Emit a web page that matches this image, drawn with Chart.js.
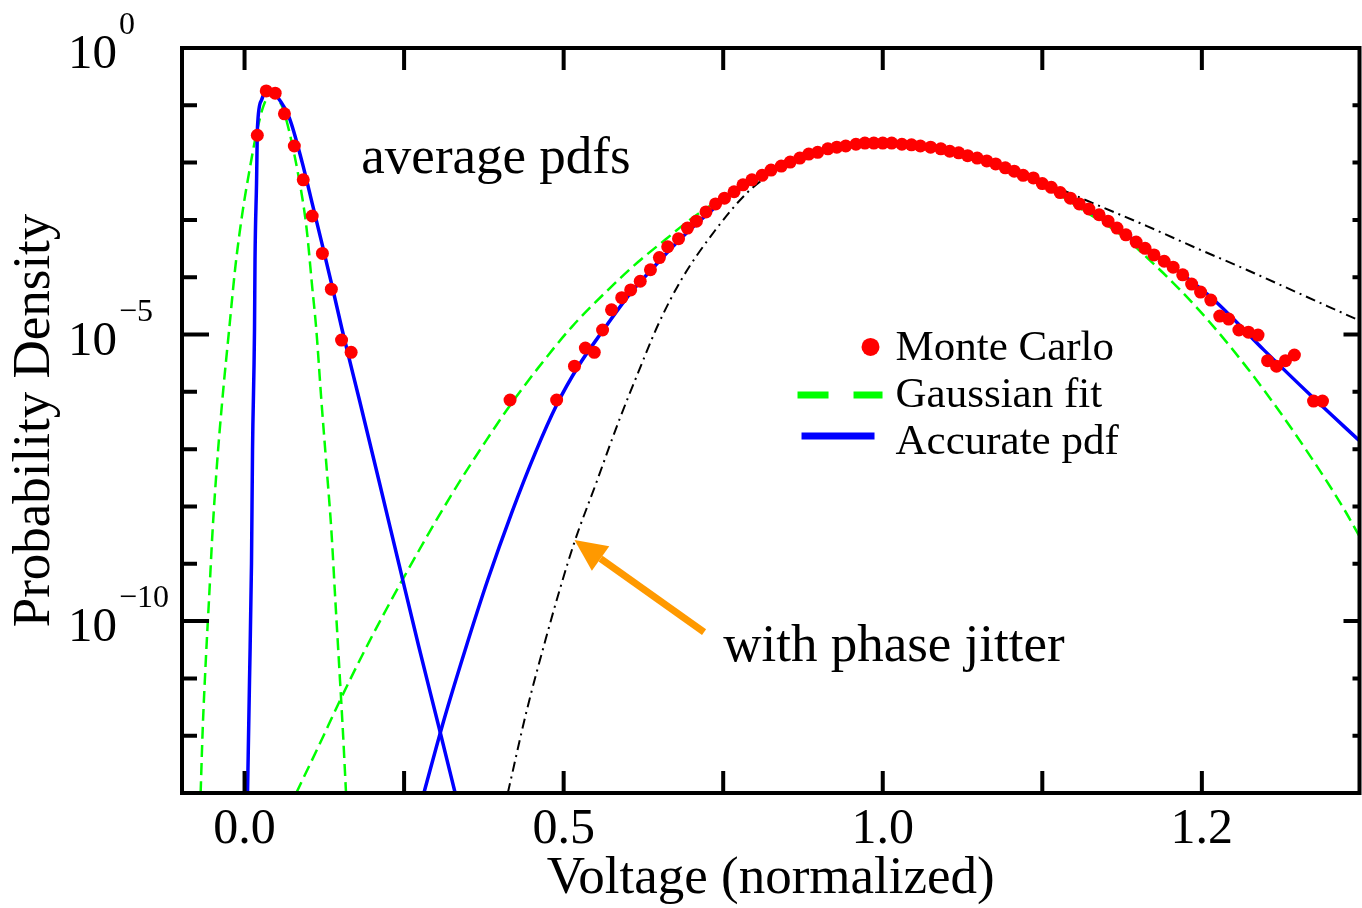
<!DOCTYPE html>
<html>
<head>
<meta charset="utf-8">
<script src="https://cdn.jsdelivr.net/npm/chart.js@4.4.1/dist/chart.umd.min.js"></script>
<style>
  html, body { margin: 0; padding: 0; background: #fff; overflow: hidden; }
  #wrap { width: 1362px; height: 908px; overflow: hidden; }
</style>
</head>
<body>
<div id="wrap"><canvas id="pdfChart" width="1366" height="908"></canvas></div>
<script>
// ========================
// DATA
// ========================
const xTickValues = [0, 0.25, 0.5, 0.75, 1.0, 1.25, 1.5];
const xLabelValues = [0, 0.5, 1.0, 1.5];
const xTickLabels = ['0.0', '0.5', '1.0', '1.2'];

const yTickValues = [1, 1e-1, 1e-2, 1e-3, 1e-4, 1e-5, 1e-6, 1e-7, 1e-8, 1e-9, 1e-10, 1e-11, 1e-12, 1e-13];
const yLabelValues = [1, 1e-5, 1e-10];
const yLabelExponents = ['0', '\u22125', '\u221210'];

// Monte Carlo samples
const mcX = [0.020, 0.034, 0.048, 0.0625, 0.078, 0.092, 0.106, 0.122, 0.136, 0.152, 0.167,
  0.416, 0.489, 0.517, 0.534, 0.548, 0.561, 0.575, 0.591, 0.605, 0.620,
  0.636, 0.650, 0.663, 0.680, 0.694, 0.708, 0.723, 0.738, 0.752, 0.767,
  0.781, 0.795, 0.811, 0.825, 0.841, 0.855, 0.870, 0.884, 0.898, 0.914,
  0.928, 0.942, 0.958, 0.972, 0.986, 1.000, 1.014, 1.030, 1.045, 1.059,
  1.075, 1.091, 1.105, 1.119, 1.133, 1.148, 1.163, 1.177, 1.192, 1.206,
  1.220, 1.236, 1.250, 1.264, 1.278, 1.294, 1.308, 1.323, 1.339, 1.353,
  1.367, 1.381, 1.397, 1.411, 1.425, 1.441, 1.455, 1.470, 1.484, 1.498,
  1.514, 1.528, 1.542, 1.558, 1.573, 1.588, 1.603, 1.617, 1.631, 1.645,
  1.675, 1.689];
const mcY = [3.0e-2, 1.78e-1, 1.63e-1, 7.1e-2, 1.95e-2, 5.0e-3, 1.17e-3, 2.6e-4, 6.2e-5, 8.0e-6, 4.9e-6,
  7.2e-7, 7.2e-7, 2.8e-6, 5.8e-6, 4.9e-6, 1.2e-5, 2.7e-5, 4.4e-5, 6.0e-5, 8.5e-5,
  1.35e-4, 2.2e-4, 3.4e-4, 4.7e-4, 7.2e-4, 9.5e-4, 1.38e-3, 1.9e-3, 2.4e-3, 3.1e-3,
  4.1e-3, 5.0e-3, 6.0e-3, 7.4e-3, 8.7e-3, 1.02e-2, 1.20e-2, 1.41e-2, 1.51e-2, 1.74e-2,
  1.86e-2, 1.95e-2, 2.09e-2, 2.19e-2, 2.19e-2, 2.19e-2, 2.19e-2, 2.09e-2, 2.04e-2, 1.95e-2,
  1.86e-2, 1.74e-2, 1.58e-2, 1.48e-2, 1.32e-2, 1.20e-2, 1.07e-2, 9.5e-3, 8.1e-3, 7.1e-3,
  6.0e-3, 5.4e-3, 4.3e-3, 3.7e-3, 3.0e-3, 2.4e-3, 1.9e-3, 1.55e-3, 1.23e-3, 9.5e-4,
  7.2e-4, 5.5e-4, 4.1e-4, 3.2e-4, 2.45e-4, 1.9e-4, 1.5e-4, 1.1e-4, 7.6e-5, 5.5e-5,
  4.0e-5, 2.1e-5, 1.86e-5, 1.2e-5, 1.1e-5, 9.8e-6, 3.5e-6, 2.8e-6, 3.5e-6, 4.4e-6,
  6.9e-7, 6.9e-7];

// Gaussian fit, peak near 0
const gaussLeftX = [-0.0688, -0.0656, -0.0609, -0.0555, -0.050, -0.043, -0.0344, -0.0242, -0.0141, -0.0031,
  0.0078, 0.0188, 0.0297, 0.0422, 0.0578, 0.0656, 0.0828, 0.0969, 0.106, 0.1125,
  0.120, 0.128, 0.136, 0.142, 0.148, 0.154, 0.159];
const gaussLeftY = [1.0e-13, 1.26e-12, 1.86e-11, 2.6e-10, 3.9e-9, 5.75e-8, 8.1e-7, 1.2e-5, 1.62e-4, 1.38e-3,
  7.4e-3, 3.3e-2, 9.8e-2, 1.64e-1, 1.02e-1, 5.5e-2, 7.4e-3, 7.6e-4, 6.8e-5, 1.2e-5,
  8.1e-7, 5.75e-8, 3.9e-9, 2.6e-10, 1.86e-11, 1.26e-12, 1.0e-13];

// Gaussian fit, peak near 1
const gaussRightX = [0.081, 0.117, 0.152, 0.195, 0.250, 0.325, 0.378, 0.414, 0.461, 0.5125,
  0.566, 0.617, 0.659, 0.700, 0.7375, 0.805, 0.867, 0.930, 1.000, 1.070,
  1.148, 1.227, 1.309, 1.378, 1.414, 1.466, 1.519, 1.570, 1.622, 1.680,
  1.722, 1.747];
const gaussRightY = [1.0e-13, 6.9e-13, 4.7e-12, 4.3e-11, 5.9e-10, 1.65e-8, 1.38e-7, 5.4e-7, 2.7e-6, 1.35e-5,
  5.5e-5, 1.86e-4, 4.5e-4, 1.05e-3, 2.0e-3, 5.6e-3, 1.12e-2, 1.78e-2, 2.19e-2, 1.86e-2,
  1.2e-2, 5.9e-3, 1.6e-3, 5.0e-4, 2.2e-4, 6.0e-5, 1.35e-5, 2.7e-6, 4.5e-7, 5.1e-8,
  9.3e-9, 3.0e-9];

// Accurate pdf, peak near 0
const accLeftX = [0.0047, 0.0078, 0.0109, 0.0125, 0.0156, 0.0164, 0.0188, 0.0203, 0.0266, 0.0359,
  0.0516, 0.0703, 0.0906, 0.106, 0.122, 0.1375, 0.153, 0.180, 0.211, 0.242,
  0.273, 0.305, 0.330];
const accLeftY = [1.0e-13, 9.3e-12, 1.02e-9, 9.6e-8, 1.2e-5, 2.0e-4, 4.4e-3, 4.2e-2, 1.23e-1, 2.0e-1,
  1.4e-1, 6.0e-2, 9.8e-3, 1.95e-3, 3.6e-4, 6.8e-5, 1.2e-5, 7.2e-7, 2.7e-8, 9.8e-10,
  3.6e-11, 1.35e-12, 1.0e-13];

// Accurate pdf, peak near 1
const accRightX = [0.281, 0.3125, 0.347, 0.381, 0.419, 0.456, 0.489, 0.523, 0.559, 0.606,
  0.6375, 0.675, 0.711, 0.7625, 0.816, 0.867, 0.919, 0.958, 1.000, 1.075,
  1.153, 1.231, 1.309, 1.3875, 1.466, 1.519, 1.597, 1.675, 1.747];
const accRightY = [1.0e-13, 1.9e-12, 3.5e-11, 5.2e-10, 8.0e-9, 8.9e-8, 5.9e-7, 2.8e-6, 1.07e-5, 5.5e-5,
  1.35e-4, 3.8e-4, 9.1e-4, 2.8e-3, 6.3e-3, 1.15e-2, 1.78e-2, 2.09e-2, 2.19e-2, 1.86e-2,
  1.2e-2, 5.4e-3, 1.8e-3, 5.0e-4, 1.2e-4, 4.0e-5, 5.4e-6, 7.8e-7, 1.4e-7];

// with phase jitter
const jitterX = [0.4125, 0.442, 0.472, 0.495, 0.517, 0.552, 0.586, 0.617, 0.648, 0.684,
  0.7375, 0.789, 0.831, 0.867, 0.914, 0.961, 1.000, 1.102, 1.180, 1.258,
  1.336, 1.414, 1.492, 1.570, 1.648, 1.747];
const jitterY = [1.0e-13, 2.7e-12, 4.9e-11, 3.9e-10, 2.4e-9, 2.75e-8, 3.0e-7, 2.2e-6, 1.48e-5, 8.9e-5,
  6.6e-4, 3.1e-3, 7.1e-3, 1.2e-2, 1.74e-2, 2.04e-2, 2.19e-2, 1.66e-2, 9.8e-3, 4.3e-3,
  1.82e-3, 7.8e-4, 3.2e-4, 1.35e-4, 5.5e-5, 1.75e-5];

const legendLabels = ['Monte Carlo', 'Gaussian fit', 'Accurate pdf'];

// ========================
// LAYOUT / STYLE
// ========================
const FONT = '"Liberation Serif", "Times New Roman", Times, serif';
const RED = '#ff0000';
const GREEN = '#00ff00';
const BLUE = '#0000ff';
const ORANGE = '#ff9900';

const X_MIN = -0.098, X_MAX = 1.747;
const Y_MIN = 1e-13, Y_MAX = 1;

// annotation anchors in data units
const notes = [
  { text: 'average pdfs', x: 0.183, y: 6.6e-3 },
  { text: 'with phase jitter', x: 0.75, y: 2.0e-11 }
];
const arrowTail = { x: 0.720, y: 6.4e-11 };
const arrowTip = { x: 0.517, y: 2.6e-9 };
const legendAnchor = { x: 1.020, y: 3.6e-6 };

function pairs(xs, ys) {
  return xs.map((x, i) => ({ x: x, y: ys[i] }));
}

function curve(data, color, width, dash) {
  return {
    data: data,
    borderColor: color,
    borderWidth: width,
    borderDash: dash,
    pointRadius: 0,
    fill: false,
    cubicInterpolationMode: 'monotone'
  };
}

// ========================
// OVERLAY (frame, ticks, labels, legend)
// ========================
const overlay = {
  id: 'overlay',
  beforeDraw(chart) {
    const ctx = chart.ctx;
    ctx.save();
    ctx.fillStyle = '#fff';
    ctx.fillRect(0, 0, chart.width, chart.height);
    ctx.restore();
  },
  afterDraw(chart) {
    const ctx = chart.ctx;
    const xs = chart.scales.x, ys = chart.scales.y;
    const a = chart.chartArea;
    ctx.save();

    // frame
    ctx.strokeStyle = '#000';
    ctx.lineWidth = 4;
    ctx.strokeRect(a.left, a.top, a.right - a.left, a.bottom - a.top);

    // inward ticks
    ctx.beginPath();
    xs.ticks.forEach(t => {
      const px = xs.getPixelForValue(t.value);
      ctx.moveTo(px, a.bottom); ctx.lineTo(px, a.bottom - 22);
      ctx.moveTo(px, a.top); ctx.lineTo(px, a.top + 22);
    });
    ys.ticks.forEach(t => {
      const py = ys.getPixelForValue(t.value);
      const major = yLabelValues.includes(t.value);
      ctx.moveTo(a.left, py); ctx.lineTo(a.left + (major ? 27 : 15), py);
      ctx.moveTo(a.right, py); ctx.lineTo(a.right - (major ? 16 : 7), py);
    });
    ctx.stroke();

    // y labels with exponents
    ctx.fillStyle = '#000';
    ctx.textBaseline = 'alphabetic';
    yLabelValues.forEach((v, i) => {
      const py = ys.getPixelForValue(v);
      ctx.font = '49px ' + FONT;
      ctx.textAlign = 'right';
      ctx.fillText('10', a.left - 65, py + 20);
      ctx.font = '32px ' + FONT;
      ctx.textAlign = 'left';
      ctx.fillText(yLabelExponents[i], a.left - 63, py - 14);
    });

    // annotations
    ctx.font = '53px ' + FONT;
    ctx.textAlign = 'left';
    notes.forEach(n => {
      ctx.fillText(n.text, xs.getPixelForValue(n.x), ys.getPixelForValue(n.y));
    });

    // arrow
    const tx = xs.getPixelForValue(arrowTail.x), ty = ys.getPixelForValue(arrowTail.y);
    const hx = xs.getPixelForValue(arrowTip.x), hy = ys.getPixelForValue(arrowTip.y);
    const ang = Math.atan2(hy - ty, hx - tx);
    const headLen = 32, headHalf = 15;
    const bx = hx - headLen * Math.cos(ang), by = hy - headLen * Math.sin(ang);
    ctx.strokeStyle = ORANGE;
    ctx.fillStyle = ORANGE;
    ctx.lineWidth = 7;
    ctx.beginPath();
    ctx.moveTo(tx, ty); ctx.lineTo(bx, by);
    ctx.stroke();
    ctx.beginPath();
    ctx.moveTo(hx, hy);
    ctx.lineTo(bx + headHalf * Math.sin(ang), by - headHalf * Math.cos(ang));
    ctx.lineTo(bx - headHalf * Math.sin(ang), by + headHalf * Math.cos(ang));
    ctx.closePath();
    ctx.fill();

    // legend
    const lx = xs.getPixelForValue(legendAnchor.x), ly = ys.getPixelForValue(legendAnchor.y);
    const row = 47;
    ctx.fillStyle = RED;
    ctx.beginPath();
    ctx.arc(lx - 25, ly - 13, 9, 0, Math.PI * 2);
    ctx.fill();
    ctx.lineWidth = 7;
    ctx.strokeStyle = GREEN;
    ctx.beginPath();
    ctx.moveTo(lx - 98, ly + row - 12); ctx.lineTo(lx - 67, ly + row - 12);
    ctx.moveTo(lx - 42, ly + row - 12); ctx.lineTo(lx - 13, ly + row - 12);
    ctx.stroke();
    ctx.strokeStyle = BLUE;
    ctx.beginPath();
    ctx.moveTo(lx - 94, ly + 2 * row - 18); ctx.lineTo(lx - 21, ly + 2 * row - 18);
    ctx.stroke();
    ctx.fillStyle = '#000';
    ctx.font = '43px ' + FONT;
    legendLabels.forEach((t, i) => ctx.fillText(t, lx, ly + i * row));

    ctx.restore();
  }
};

// ========================
// CHART
// ========================
const ctx = document.getElementById('pdfChart').getContext('2d');
const pdfChart = new Chart(ctx, {
  type: 'line',
  data: {
    datasets: [
      {
        label: legendLabels[0],
        data: pairs(mcX, mcY),
        showLine: false,
        pointRadius: 6.5,
        pointStyle: 'circle',
        pointBackgroundColor: RED,
        pointBorderWidth: 0,
        borderColor: RED
      },
      curve(pairs(jitterX, jitterY), '#000', 2, [10, 5, 2, 5]),
      curve(pairs(accLeftX, accLeftY), BLUE, 3.5, []),
      curve(pairs(accRightX, accRightY), BLUE, 3.5, []),
      curve(pairs(gaussLeftX, gaussLeftY), GREEN, 2.5, [12, 6]),
      curve(pairs(gaussRightX, gaussRightY), GREEN, 2.5, [12, 6])
    ]
  },
  options: {
    responsive: false,
    animation: false,
    events: [],
    layout: { padding: { top: 48, right: 3, left: 0, bottom: 0 } },
    plugins: { legend: { display: false }, tooltip: { enabled: false } },
    scales: {
      x: {
        type: 'linear',
        min: X_MIN,
        max: X_MAX,
        afterBuildTicks: s => { s.ticks = xTickValues.map(v => ({ value: v })); },
        afterFit: s => { s.height = 115; },
        grid: { display: false, drawTicks: false },
        border: { display: false },
        ticks: {
          color: '#000',
          font: { family: FONT, size: 50 },
          padding: 7,
          maxRotation: 0,
          autoSkip: false,
          callback: v => {
            const i = xLabelValues.findIndex(l => Math.abs(l - v) < 1e-9);
            return i >= 0 ? xTickLabels[i] : '';
          }
        },
        title: {
          display: true,
          text: 'Voltage (normalized)',
          color: '#000',
          font: { family: FONT, size: 53, lineHeight: 1.0 },
          padding: { top: 0, bottom: 2 }
        }
      },
      y: {
        type: 'logarithmic',
        min: Y_MIN,
        max: Y_MAX,
        afterBuildTicks: s => { s.ticks = yTickValues.map(v => ({ value: v })); },
        afterFit: s => { s.width = 182; },
        grid: { display: false, drawTicks: false },
        border: { display: false },
        ticks: { display: false },
        title: {
          display: true,
          text: 'Probability Density',
          color: '#000',
          font: { family: FONT, size: 53, lineHeight: 1.0 },
          padding: { top: 9, bottom: 0 }
        }
      }
    }
  },
  plugins: [overlay]
});
</script>
</body>
</html>
